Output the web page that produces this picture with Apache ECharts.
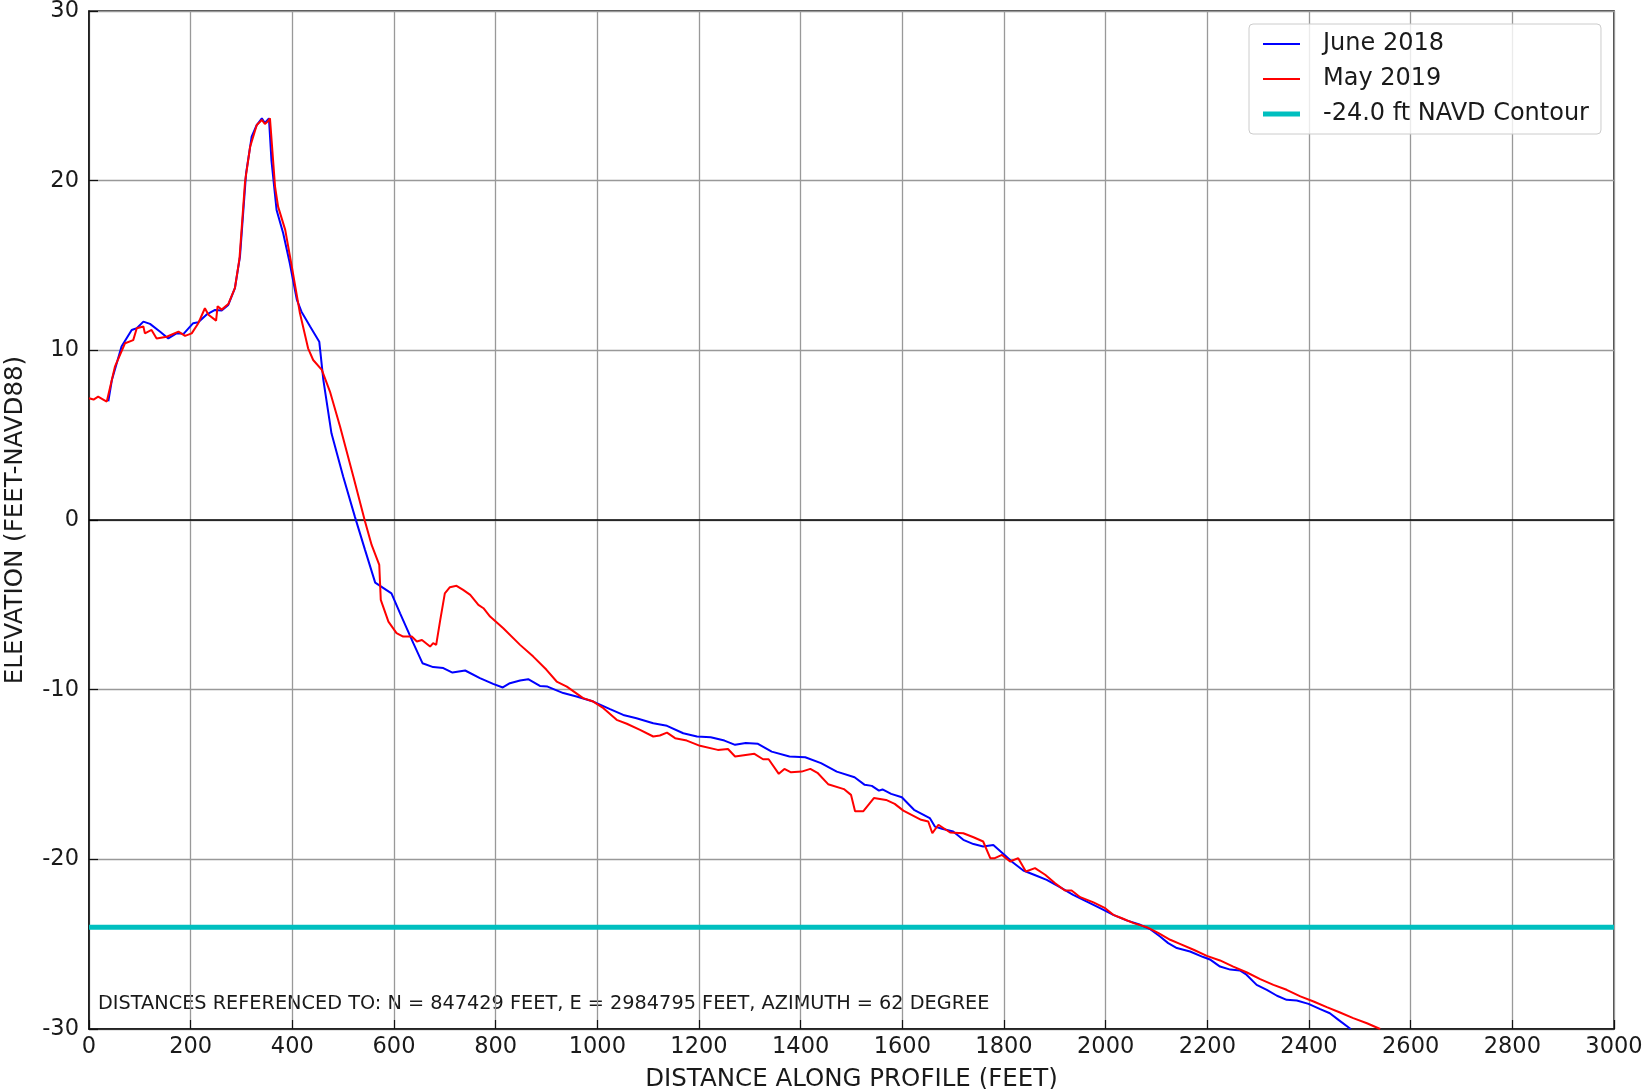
<!DOCTYPE html>
<html>
<head>
<meta charset="utf-8">
<script src="https://cdn.jsdelivr.net/npm/echarts@6/dist/echarts.min.js"></script>
<style>
html,body{margin:0;padding:0;background:#fff;}
#chart{width:1643px;height:1089px;}
</style>
</head>
<body>
<div id="chart"></div>
<script>
// ---- data ----
const juneDist = [38,45,64,84,94,107,120,140,156,172,186,205,215,231,248,261,274,287,297,309,320,330,340,346,354,359,369,382,395,409,418,435,453,461,477,500,523,543,563,595,612,638,656,677,697,715,740,769,795,814,828,848,864,887,902,933,959,992,1025,1051,1077,1110,1137,1169,1196,1223,1250,1271,1292,1316,1343,1378,1409,1440,1471,1506,1526,1540,1554,1561,1578,1599,1623,1654,1664,1678,1700,1720,1740,1759,1779,1799,1815,1838,1864,1884,1910,1936,1963,1989,2015,2041,2068,2087,2107,2123,2140,2166,2192,2205,2225,2245,2264,2277,2297,2317,2337,2356,2376,2399,2422,2441,2458,2482];
const juneElev = [7.0,8.25,10.22,11.2,11.3,11.69,11.56,11.1,10.7,11.0,10.97,11.6,11.65,12.1,12.38,12.35,12.68,13.66,15.52,20.43,22.59,23.28,23.67,23.4,23.67,21.16,18.27,16.9,15.13,12.97,12.28,11.4,10.51,8.26,5.11,2.56,0.2,-1.76,-3.69,-4.32,-5.5,-7.26,-8.44,-8.67,-8.73,-8.99,-8.87,-9.32,-9.66,-9.87,-9.62,-9.46,-9.38,-9.78,-9.82,-10.2,-10.4,-10.7,-11.15,-11.49,-11.68,-11.98,-12.13,-12.57,-12.76,-12.8,-13.0,-13.25,-13.15,-13.19,-13.65,-13.94,-13.98,-14.33,-14.83,-15.16,-15.61,-15.67,-15.95,-15.88,-16.14,-16.34,-17.08,-17.57,-18.07,-18.2,-18.36,-18.85,-19.1,-19.24,-19.15,-19.68,-20.13,-20.66,-20.97,-21.21,-21.64,-22.1,-22.49,-22.88,-23.27,-23.6,-23.86,-24.11,-24.55,-24.94,-25.23,-25.43,-25.76,-25.9,-26.32,-26.5,-26.55,-26.8,-27.4,-27.69,-28.04,-28.28,-28.32,-28.52,-28.83,-29.07,-29.46,-30.0];

const mayDist = [0,9,18,28,35,51,71,87,94,107,110,123,133,153,176,189,202,215,228,235,250,253,261,274,287,296,307,317,330,340,346,352,356,366,372,386,399,415,431,441,458,474,494,520,543,556,571,574,589,605,618,635,645,655,671,677,683,691,700,710,723,736,750,766,776,789,815,848,874,900,920,940,972,992,1012,1038,1058,1084,1110,1123,1137,1153,1176,1202,1237,1257,1271,1309,1326,1337,1357,1368,1381,1402,1419,1433,1454,1485,1499,1507,1523,1544,1568,1585,1602,1637,1651,1659,1671,1694,1720,1740,1759,1773,1782,1796,1812,1828,1843,1861,1881,1900,1920,1933,1950,1976,1999,2015,2032,2055,2081,2104,2127,2146,2173,2199,2225,2251,2278,2304,2330,2356,2383,2409,2435,2461,2487,2514,2540];
const mayElev = [7.18,7.1,7.27,7.1,6.98,9.04,10.42,10.6,11.3,11.4,11.0,11.2,10.7,10.8,11.1,10.85,11.0,11.6,12.48,12.1,11.75,12.6,12.4,12.73,13.66,15.4,19.94,22.0,23.28,23.58,23.34,23.5,23.67,19.65,18.47,17.1,14.93,12.18,10.12,9.43,8.85,7.57,5.5,2.56,-0.09,-1.47,-2.65,-4.71,-5.99,-6.67,-6.87,-6.87,-7.16,-7.07,-7.46,-7.26,-7.36,-5.89,-4.32,-3.96,-3.88,-4.12,-4.41,-5.0,-5.2,-5.69,-6.38,-7.36,-8.05,-8.83,-9.52,-9.82,-10.5,-10.7,-11.09,-11.78,-12.01,-12.37,-12.76,-12.7,-12.53,-12.86,-13.0,-13.31,-13.55,-13.5,-13.94,-13.78,-14.1,-14.1,-14.96,-14.67,-14.87,-14.83,-14.67,-14.9,-15.57,-15.86,-16.2,-17.17,-17.17,-16.39,-16.5,-16.73,-17.13,-17.67,-17.77,-18.46,-17.96,-18.42,-18.46,-18.7,-18.95,-19.93,-19.93,-19.74,-20.13,-19.93,-20.72,-20.52,-20.91,-21.4,-21.84,-21.84,-22.23,-22.54,-22.88,-23.27,-23.47,-23.76,-24.0,-24.35,-24.74,-24.98,-25.33,-25.69,-25.96,-26.32,-26.67,-27.06,-27.4,-27.69,-28.08,-28.38,-28.71,-29.03,-29.36,-29.66,-30.0];

const contourLevel = -24.0;
const contourSpan = [0, 3000];
const zeroSpan = [0, 3000];
const seriesNames = ['June 2018', 'May 2019', '-24.0 ft NAVD Contour'];
const noteText = 'DISTANCES REFERENCED TO: N = 847429 FEET, E = 2984795 FEET, AZIMUTH = 62 DEGREE';

const pairs = (xs, ys) => xs.map((x, i) => [x, ys[i]]);
const FONT = 'DejaVu Sans';
const TXT = '#1a1a1a';
const BLUE = '#0000ff', RED = '#ff0000', CYAN = '#00bfbf';

const chart = echarts.init(document.getElementById('chart'), null, {renderer: 'canvas'});
chart.setOption({
  animation: false,
  backgroundColor: '#ffffff',
  grid: {left: 89, top: 11, width: 1525, height: 1018, show: true, borderColor: '#111', borderWidth: 1.5,
         backgroundColor: 'transparent', containLabel: false, outerBoundsMode: 'none'},
  xAxis: {
    type: 'value', min: 0, max: 3000, interval: 200,
    name: 'DISTANCE ALONG PROFILE (FEET)', nameLocation: 'middle', nameGap: 38,
    nameTextStyle: {fontFamily: FONT, fontSize: 24.5, color: TXT},
    axisLine: {show: true, onZero: false, lineStyle: {color: '#111', width: 1.5}},
    axisTick: {show: true, inside: true, length: 9, lineStyle: {color: '#111', width: 1.2}},
    axisLabel: {fontFamily: FONT, fontSize: 22.5, color: TXT, margin: 7, formatter: v => String(v)},
    splitLine: {show: true, lineStyle: {color: '#999999', width: 1.3}}
  },
  yAxis: {
    type: 'value', min: -30, max: 30, interval: 10,
    name: 'ELEVATION (FEET-NAVD88)', nameLocation: 'middle', nameGap: 61,
    nameTextStyle: {fontFamily: FONT, fontSize: 24.5, color: TXT},
    axisLine: {show: true, onZero: false, lineStyle: {color: '#111', width: 1.5}},
    axisTick: {show: true, inside: true, length: 9, lineStyle: {color: '#111', width: 1.2}},
    axisLabel: {fontFamily: FONT, fontSize: 22.5, color: TXT, margin: 10, formatter: v => String(v)},
    splitLine: {show: true, lineStyle: {color: '#999999', width: 1.3}}
  },
  legend: {
    orient: 'vertical', left: 1249, top: 24,
    data: [
      {name: seriesNames[0], icon: 'path://M0,0H37V2H0Z'},
      {name: seriesNames[1], icon: 'path://M0,0H37V2H0Z'},
      {name: seriesNames[2], icon: 'path://M0,0H37V5H0Z'}
    ],
    itemWidth: 37, itemHeight: 14, itemGap: 11, symbolKeepAspect: true,
    padding: [8, 12, 8, 14],
    backgroundColor: 'rgba(255,255,255,0.8)',
    borderColor: '#cccccc', borderWidth: 1, borderRadius: 4,
    textStyle: {fontFamily: FONT, fontSize: 24, color: TXT, padding: [0, 0, 0, 18]}
  },
  graphic: [{
    type: 'text', left: 98, top: 994, silent: true,
    style: {text: noteText, fontFamily: FONT, fontSize: 19.3, fill: TXT}
  }],
  series: [
    {
      name: 'zero', type: 'line', data: zeroSpan.map(x => [x, 0]),
      symbol: 'none', lineStyle: {color: '#000', width: 1.3}, silent: true, z: 1
    },
    {
      name: seriesNames[2], type: 'line', data: contourSpan.map(x => [x, contourLevel]),
      symbol: 'none', showSymbol: false, color: CYAN, itemStyle: {color: CYAN}, lineStyle: {color: CYAN, width: 5}, z: 2
    },
    {
      name: seriesNames[0], type: 'line', data: pairs(juneDist, juneElev),
      symbol: 'none', showSymbol: false, color: BLUE, itemStyle: {color: BLUE}, lineStyle: {color: BLUE, width: 2}, clip: true, z: 3
    },
    {
      name: seriesNames[1], type: 'line', data: pairs(mayDist, mayElev),
      symbol: 'none', showSymbol: false, color: RED, itemStyle: {color: RED}, lineStyle: {color: RED, width: 2}, clip: true, z: 4
    }
  ]
});
</script>
</body>
</html>
